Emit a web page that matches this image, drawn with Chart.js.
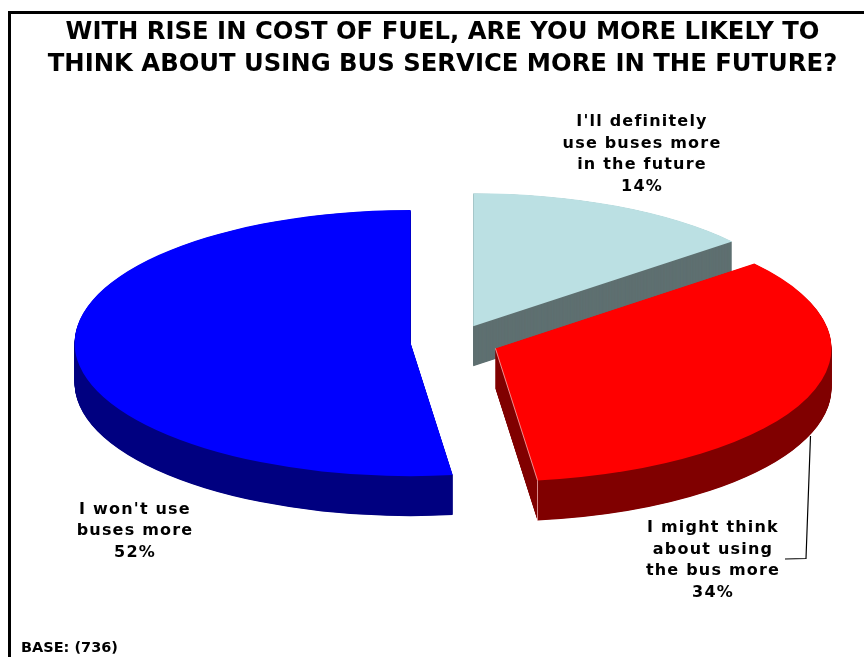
<!DOCTYPE html>
<html>
<head>
<meta charset="utf-8">
<style>
    html, body { margin: 0; padding: 0; background: #fff; overflow: hidden; }
    canvas { display: block; }
</style>
<script src="https://cdn.jsdelivr.net/npm/chart.js@4/dist/chart.umd.min.js"></script>
</head>
<body>
<canvas id="busChart" width="864" height="657"></canvas>
<script>
const titleLines = [
    'WITH RISE IN COST OF FUEL, ARE YOU MORE LIKELY TO',
    'THINK ABOUT USING BUS SERVICE MORE IN THE FUTURE?'
];
const categories = [
    "I'll definitely use buses more in the future",
    'I might think about using the bus more',
    "I won't use buses more"
];
const shares = [14, 34, 52];
const topColors = ['#BBE0E3', '#FF0000', '#0000FF'];
const wallColors = ['#5F7071', '#800000', '#000080'];
const labelLines = [
    ["I'll definitely", 'use buses more', 'in the future'],
    ['I might think', 'about using', 'the bus more'],
    ["I won't use", 'buses more']
];
const labelAnchors = [[642, 126], [713, 532], [135, 513.5]];
const baseNote = 'BASE: (736)';

const PIE_X = 454.5, PIE_Y = 342;
const RADIUS = 336, SQUASH = 0.396, EXPLODE = 44, DEPTH = 40;
const LABEL_FONT = 'bold 16px "DejaVu Sans"';

// pie is laid flat with a transform, the arcs themselves come from Chart.js
const tiltedPie = {
    id: 'tiltedPie',
    beforeDatasetsDraw(chart) {
        const ctx = chart.ctx;
        chart.getDatasetMeta(0).data.forEach((arc, i) => {
            const half = (arc.startAngle + arc.endAngle) / 2;
            const x = PIE_X + Math.cos(half) * EXPLODE;
            const y = PIE_Y + Math.sin(half) * EXPLODE * SQUASH;

            ctx.save();
            ctx.fillStyle = wallColors[i];
            for (let d = DEPTH; d > 0; d -= 0.5) {
                ctx.beginPath();
                ctx.moveTo(x, y + d);
                ctx.ellipse(x, y + d, RADIUS, RADIUS * SQUASH, 0, arc.startAngle, arc.endAngle);
                ctx.closePath();
                ctx.fill();
            }
            ctx.restore();

            ctx.save();
            ctx.translate(x, y);
            ctx.scale(1, SQUASH);
            ctx.translate(-arc.x, -arc.y);
            arc.draw(ctx);
            ctx.restore();

            // pale edge on the front corner of the red slice
            if (i === 1) {
                const tipX = x + Math.cos(arc.endAngle) * RADIUS;
                const tipY = y + Math.sin(arc.endAngle) * RADIUS * SQUASH;
                ctx.save();
                ctx.strokeStyle = 'rgba(255, 200, 200, 0.7)';
                ctx.lineWidth = 1;
                ctx.beginPath();
                ctx.moveTo(x, y);
                ctx.lineTo(tipX, tipY);
                ctx.lineTo(tipX, tipY + DEPTH);
                ctx.stroke();
                ctx.restore();
            }
        });
        return false;
    },
    beforeDraw(chart) {
        const ctx = chart.ctx;
        ctx.save();
        ctx.strokeStyle = '#000';
        ctx.lineWidth = 3;
        ctx.strokeRect(9.5, 12.5, 900, 700);
        ctx.restore();
    },
    afterDraw(chart) {
        const ctx = chart.ctx;
        ctx.save();
        ctx.fillStyle = '#000';
        ctx.font = LABEL_FONT;
        ctx.letterSpacing = '1.2px';
        ctx.textAlign = 'center';
        ctx.textBaseline = 'alphabetic';
        labelLines.forEach((lines, i) => {
            const all = lines.concat(shares[i] + '%');
            all.forEach((line, n) => {
                ctx.fillText(line, labelAnchors[i][0], labelAnchors[i][1] + n * 21.7);
            });
        });
        ctx.letterSpacing = '0px';

        ctx.textAlign = 'left';
        ctx.font = 'bold 14.5px "DejaVu Sans"';
        ctx.fillText(baseNote, 21, 652);

        // leader line for the red slice label
        ctx.strokeStyle = '#000';
        ctx.lineWidth = 1.2;
        ctx.beginPath();
        ctx.moveTo(810.5, 436);
        ctx.lineTo(806, 558.5);
        ctx.lineTo(785, 559);
        ctx.stroke();
        ctx.restore();
    }
};

new Chart(document.getElementById('busChart'), {
    type: 'pie',
    data: {
        labels: categories,
        datasets: [{
            data: shares,
            backgroundColor: topColors,
            borderWidth: 0
        }]
    },
    options: {
        responsive: false,
        animation: false,
        events: [],
        radius: RADIUS,
        layout: { padding: { left: 21, top: 17 } },
        plugins: {
            legend: { display: false },
            tooltip: { enabled: false },
            title: {
                display: true,
                text: titleLines,
                color: '#000',
                font: { family: '"DejaVu Sans"', size: 24.3, weight: 'bold', lineHeight: 1.32 },
                padding: 0
            }
        }
    },
    plugins: [tiltedPie]
});
</script>
</body>
</html>
